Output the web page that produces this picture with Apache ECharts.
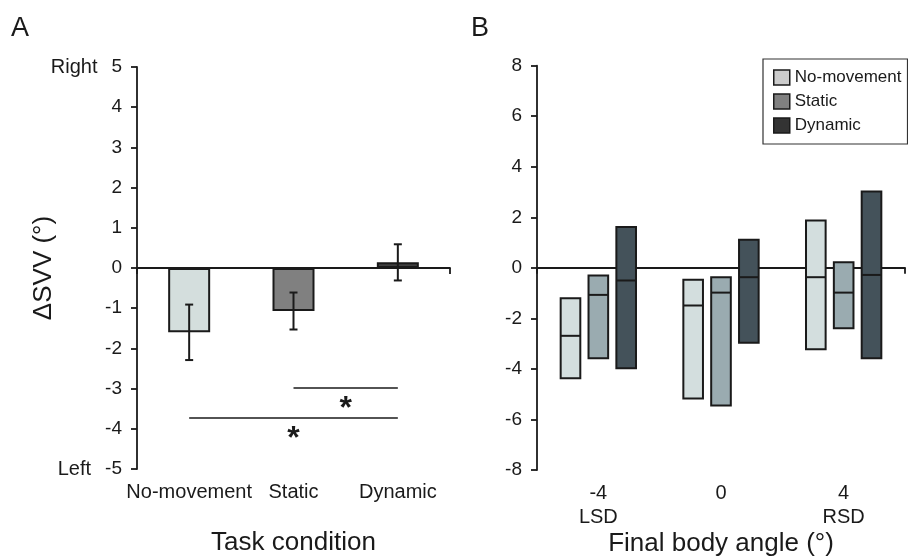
<!DOCTYPE html>
<html>
<head>
<meta charset="utf-8">
<script src="https://cdn.jsdelivr.net/npm/echarts@6/dist/echarts.min.js"></script>
<style>
html,body{margin:0;padding:0;background:#fff;}
#chart{width:908px;height:559px;}
</style>
</head>
<body>
<div id="chart"></div>
<script>
// ---------- Panel A data ----------
const aCategories = ['No-movement', 'Static', 'Dynamic'];
const aMeans = [-1.6, -1.07, 0.14];
const aErrors = [0.69, 0.46, 0.45];
const aColors = ['#d4dedd', '#808080', '#404040'];
const aYMin = -5, aYMax = 5, aYInterval = 1;
const aTopSide = 'Right', aBottomSide = 'Left';
// significance brackets: [from category, to category, y value]
const aSigFrom = ['Static', 'No-movement'];
const aSigTo = ['Dynamic', 'Dynamic'];
const aSigY = [-2.99, -3.73];
const aSigMark = '*';

// ---------- Panel B data ----------
const bCategories = ['-4', '0', '4'];
const bSubLabels = ['LSD', '', 'RSD'];
const bSeriesNames = ['No-movement', 'Static', 'Dynamic'];
// [low, median, high] per category
const bNoMovement = [[-4.37, -2.69, -1.2], [-5.17, -1.49, -0.47], [-3.22, -0.37, 1.87]];
const bStatic = [[-3.58, -1.07, -0.3], [-5.45, -0.98, -0.37], [-2.39, -0.98, 0.22]];
const bDynamic = [[-3.97, -0.5, 1.62], [-2.96, -0.37, 1.11], [-3.58, -0.28, 3.02]];
const bColors = ['#d3dede', '#9aabb0', '#44525a'];
const bLegendColors = ['#cccccc', '#808080', '#333333'];
const bYMin = -8, bYMax = 8, bYInterval = 2;

const FONT = 'Liberation Sans, Arial, sans-serif';
const INK = '#1a1a1a';

const chart = echarts.init(document.getElementById('chart'), null, {renderer: 'canvas'});

function errRender(params, api) {
  const x = api.value(0);
  const lo = api.coord([x, api.value(1)]);
  const hi = api.coord([x, api.value(2)]);
  const cap = 4;
  return {
    type: 'group',
    children: [
      {type: 'line', shape: {x1: lo[0], y1: lo[1], x2: hi[0], y2: hi[1]}, style: {stroke: INK, lineWidth: 2}},
      {type: 'line', shape: {x1: lo[0] - cap, y1: lo[1], x2: lo[0] + cap, y2: lo[1]}, style: {stroke: INK, lineWidth: 2}},
      {type: 'line', shape: {x1: hi[0] - cap, y1: hi[1], x2: hi[0] + cap, y2: hi[1]}, style: {stroke: INK, lineWidth: 2}}
    ]
  };
}

function rangeRender(offsetFrac, color) {
  return function (params, api) {
    const idx = api.value(0);
    const lo = api.coord([idx, api.value(1)]);
    const med = api.coord([idx, api.value(2)]);
    const hi = api.coord([idx, api.value(3)]);
    const band = api.size([1, 0])[0];
    const w = band * 0.16;
    const cx = lo[0] + band * offsetFrac;
    return {
      type: 'group',
      children: [
        {type: 'rect', shape: {x: cx - w / 2, y: hi[1], width: w, height: lo[1] - hi[1]},
         style: {fill: color, stroke: INK, lineWidth: 2}},
        {type: 'line', shape: {x1: cx - w / 2, y1: med[1], x2: cx + w / 2, y2: med[1]},
         style: {stroke: INK, lineWidth: 2}}
      ]
    };
  };
}

const bAll = [bNoMovement, bStatic, bDynamic];
const bOffsets = [-0.227, 0, 0.227];

const axisLabelBase = {color: INK, fontSize: 19, fontFamily: FONT};

const option = {
  backgroundColor: '#ffffff',
  animation: false,
  textStyle: {fontFamily: FONT, color: INK},
  title: [
    {text: 'A', left: 11, top: 15, padding: 0, textStyle: {fontSize: 27, fontWeight: 'normal', color: INK, fontFamily: FONT}},
    {text: 'B', left: 471, top: 15, padding: 0, textStyle: {fontSize: 27, fontWeight: 'normal', color: INK, fontFamily: FONT}}
  ],
  legend: {
    orient: 'vertical',
    left: 763, top: 59,
    padding: [10, 6, 10, 10],
    itemGap: 7,
    itemWidth: 16, itemHeight: 15,
    borderColor: '#333', borderWidth: 1.2, borderRadius: 0,
    backgroundColor: '#fff',
    icon: 'rect',
    selectedMode: false,
    textStyle: {fontSize: 17, color: INK, fontFamily: FONT},
    data: bSeriesNames.map((n, i) => ({name: n, itemStyle: {color: bLegendColors[i], borderColor: INK, borderWidth: 1.5}}))
  },
  grid: [
    {left: 137, top: 67, width: 313, height: 402, outerBoundsMode: 'none', containLabel: false},
    {left: 537, top: 65.7, width: 368, height: 404.3, outerBoundsMode: 'none', containLabel: false}
  ],
  xAxis: [
    // A: labels at bottom, no line
    {type: 'category', gridIndex: 0, data: aCategories, position: 'bottom',
     axisLine: {show: false, onZero: false}, axisTick: {show: false},
     axisLabel: Object.assign({margin: 13, interval: 0, hideOverlap: false}, axisLabelBase, {fontSize: 20}),
     name: 'Task condition', nameLocation: 'middle', nameGap: 61, nameMoveOverlap: false,
     nameTextStyle: {fontSize: 26, color: INK, fontFamily: FONT}},
    // A: zero line
    {type: 'category', gridIndex: 0, data: aCategories, position: 'top',
     axisLine: {show: true, onZero: true, lineStyle: {color: INK, width: 1.8}},
     axisTick: {show: true, inside: true, length: 6, interval: (i) => i === 0, lineStyle: {color: INK, width: 1.8}},
     axisLabel: {show: false}},
    // B: labels at bottom
    {type: 'category', gridIndex: 1, data: bCategories, position: 'bottom',
     axisLine: {show: false, onZero: false}, axisTick: {show: false},
     axisLabel: Object.assign({margin: 11, lineHeight: 24, interval: 0,
       formatter: (v, i) => bSubLabels[i] ? v + '\n' + bSubLabels[i] : v}, axisLabelBase, {fontSize: 20}),
     name: 'Final body angle (°)', nameLocation: 'middle', nameGap: 61, nameMoveOverlap: false,
     nameTextStyle: {fontSize: 26, color: INK, fontFamily: FONT}},
    // B: zero line
    {type: 'category', gridIndex: 1, data: bCategories, position: 'top',
     axisLine: {show: true, onZero: true, lineStyle: {color: INK, width: 1.8}},
     axisTick: {show: true, inside: true, length: 6, interval: (i) => i === 0, lineStyle: {color: INK, width: 1.8}},
     axisLabel: {show: false}}
  ],
  yAxis: [
    {type: 'value', gridIndex: 0, min: aYMin, max: aYMax, interval: aYInterval,
     axisLine: {show: true, lineStyle: {color: INK, width: 1.8}},
     axisTick: {show: true, length: 6, lineStyle: {color: INK, width: 1.8}},
     splitLine: {show: false},
     axisLabel: Object.assign({margin: 15,
       formatter: (v) => v === aYMax ? '{side|' + aTopSide + '}' + v : (v === aYMin ? '{side|' + aBottomSide + '}' + v : String(v)),
       rich: {side: {padding: [0, 14, 0, 0], fontSize: 20, color: INK, fontFamily: FONT}}}, axisLabelBase),
     name: 'ΔSVV (°)', nameLocation: 'middle', nameGap: 80, nameRotate: 90, nameMoveOverlap: false,
     nameTextStyle: {fontSize: 26, color: INK, fontFamily: FONT}},
    {type: 'value', gridIndex: 1, min: bYMin, max: bYMax, interval: bYInterval,
     axisLine: {show: true, lineStyle: {color: INK, width: 1.8}},
     axisTick: {show: true, length: 6, lineStyle: {color: INK, width: 1.8}},
     splitLine: {show: false},
     axisLabel: Object.assign({margin: 15}, axisLabelBase)}
  ],
  series: [
    {
      name: 'A means', type: 'bar', xAxisIndex: 1, yAxisIndex: 0,
      barWidth: 42,
      data: aMeans.map((v, i) => ({value: v, itemStyle: {color: aColors[i]}})),
      itemStyle: {borderColor: INK, borderWidth: 2},
      z: 2,
      markLine: {
        silent: true, symbol: 'none',
        lineStyle: {color: INK, width: 1.6, type: 'solid'},
        label: {show: true, formatter: aSigMark, position: 'insideMiddleBottom', distance: 5,
                fontSize: 32, fontWeight: 'bold', color: INK, fontFamily: FONT},
        data: aSigY.map((y, i) => [{coord: [aSigFrom[i], y]}, {coord: [aSigTo[i], y]}])
      }
    },
    {
      name: 'A errors', type: 'custom', xAxisIndex: 1, yAxisIndex: 0,
      renderItem: errRender,
      data: aMeans.map((m, i) => [i, m - aErrors[i], m + aErrors[i]]),
      z: 3
    }
  ].concat(bSeriesNames.map((name, s) => ({
    name: name, type: 'custom', xAxisIndex: 3, yAxisIndex: 1,
    itemStyle: {color: bColors[s]},
    renderItem: rangeRender(bOffsets[s], bColors[s]),
    encode: {x: 0, y: [1, 2, 3]},
    data: bAll[s].map((t, i) => [i, t[0], t[1], t[2]])
  })))
};

chart.setOption(option);
</script>
</body>
</html>
